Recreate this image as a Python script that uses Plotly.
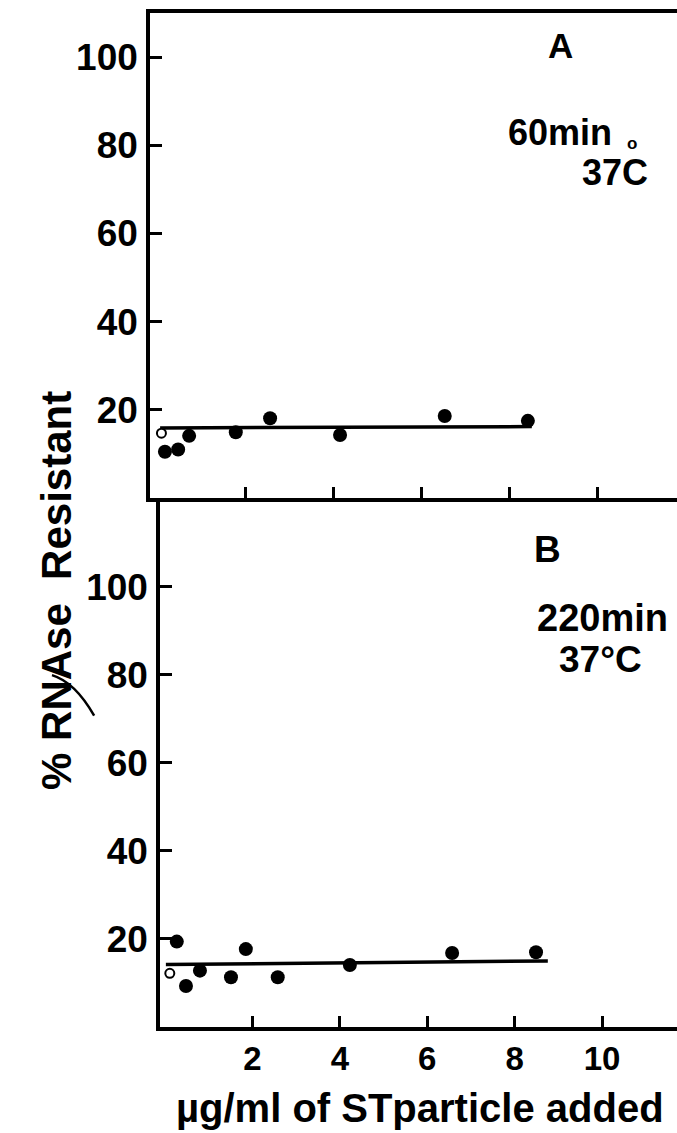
import plotly.graph_objects as go

# Panel A: 60 min at 37 C
a_x = [0.16, 0.46, 0.71, 1.77, 2.55, 4.14, 6.52, 8.41]
a_y = [10.5, 11.0, 14.1, 14.9, 18.1, 14.3, 18.6, 17.5]
a_ctrl_x = [0.08]
a_ctrl_y = [14.7]
a_fit_x = [0.05, 8.5]
a_fit_y = [15.9, 16.2]

# Panel B: 220 min at 37 C
b_x = [0.27, 0.48, 0.80, 1.51, 1.85, 2.58, 4.23, 6.57, 8.49]
b_y = [19.4, 9.3, 12.8, 11.3, 17.7, 11.3, 14.1, 16.8, 17.0]
b_ctrl_x = [0.11]
b_ctrl_y = [12.2]
b_fit_x = [0.02, 8.76]
b_fit_y = [14.2, 15.0]

x_ticks = [2, 4, 6, 8, 10]
y_ticks = [20, 40, 60, 80, 100]

FONT = "Liberation Sans"
INK = "black"

fig = go.Figure()

def add_panel(xs, ys, cx, cy, fx, fy, xa, ya):
    fig.add_trace(go.Scatter(x=fx, y=fy, mode="lines", xaxis=xa, yaxis=ya,
                             line=dict(color=INK, width=3.5), hoverinfo="skip"))
    fig.add_trace(go.Scatter(x=xs, y=ys, mode="markers", xaxis=xa, yaxis=ya,
                             marker=dict(color=INK, size=14, line=dict(width=0))))
    fig.add_trace(go.Scatter(x=cx, y=cy, mode="markers", xaxis=xa, yaxis=ya,
                             marker=dict(color="white", size=9,
                                         line=dict(color=INK, width=2))))

add_panel(a_x, a_y, a_ctrl_x, a_ctrl_y, a_fit_x, a_fit_y, "x", "y")
add_panel(b_x, b_y, b_ctrl_x, b_ctrl_y, b_fit_x, b_fit_y, "x2", "y2")

axis_common = dict(showline=True, linecolor=INK, linewidth=3.5, ticks="inside",
                   tickcolor=INK, tickwidth=3, showgrid=False, zeroline=False)
ytick_font = dict(family=FONT, size=37, color=INK, weight="bold")

fig.update_layout(
    width=677, height=1133,
    margin=dict(l=150, r=0, t=13, b=106),
    paper_bgcolor="white", plot_bgcolor="white",
    showlegend=False,
    xaxis=dict(axis_common, domain=[0, 1], range=[-0.18, 11.8], anchor="y",
               mirror=True, tickvals=x_ticks, ticklen=11, showticklabels=False),
    yaxis=dict(axis_common, domain=[0.5217, 1], range=[0, 110], anchor="x",
               tickvals=y_ticks, ticklen=12, ticklabelstandoff=1,
               tickfont=ytick_font),
    xaxis2=dict(axis_common, domain=[0.019, 1], range=[-0.114, 11.716], anchor="y2",
                tickvals=x_ticks, ticklen=11, ticklabelstandoff=0,
                tickfont=dict(family=FONT, size=33, color=INK, weight="bold")),
    yaxis2=dict(axis_common, domain=[0, 0.5217], range=[0, 120.2], anchor="x2",
                tickvals=y_ticks, ticklen=12, ticklabelstandoff=1,
                tickfont=ytick_font),
)

def label(text, x, y, size, xref="x", yref="y", angle=0):
    fig.add_annotation(text=text, x=x, y=y, xref=xref, yref=yref, showarrow=False,
                       xanchor="center", yanchor="middle", textangle=angle,
                       font=dict(family=FONT, size=size, color=INK, weight="bold"))

label("A", 9.16, 102.7, 35)
label("60min", 9.13, 82.8, 36)
label("o", 10.77, 80.4, 17)
label("37C", 10.38, 73.8, 36)

label("B", 8.76, 108.4, 37, "x2", "y2")
label("220min", 10.01, 93.0, 38, "x2", "y2")
label("37°C", 9.97, 83.4, 37, "x2", "y2")

label("µg/ml of STparticle added", 0.5123, -0.080, 40, "paper", "paper")
label("% RNAse  Resistant", -0.1765, 0.431, 42, "paper", "paper", angle=-90)

# pen stroke across the axis title
fig.add_shape(type="path", xref="paper", yref="paper",
              path="M -0.186,0.347 Q -0.142,0.340 -0.106,0.307",
              line=dict(color=INK, width=2.5))

fig.write_html("out.html")
